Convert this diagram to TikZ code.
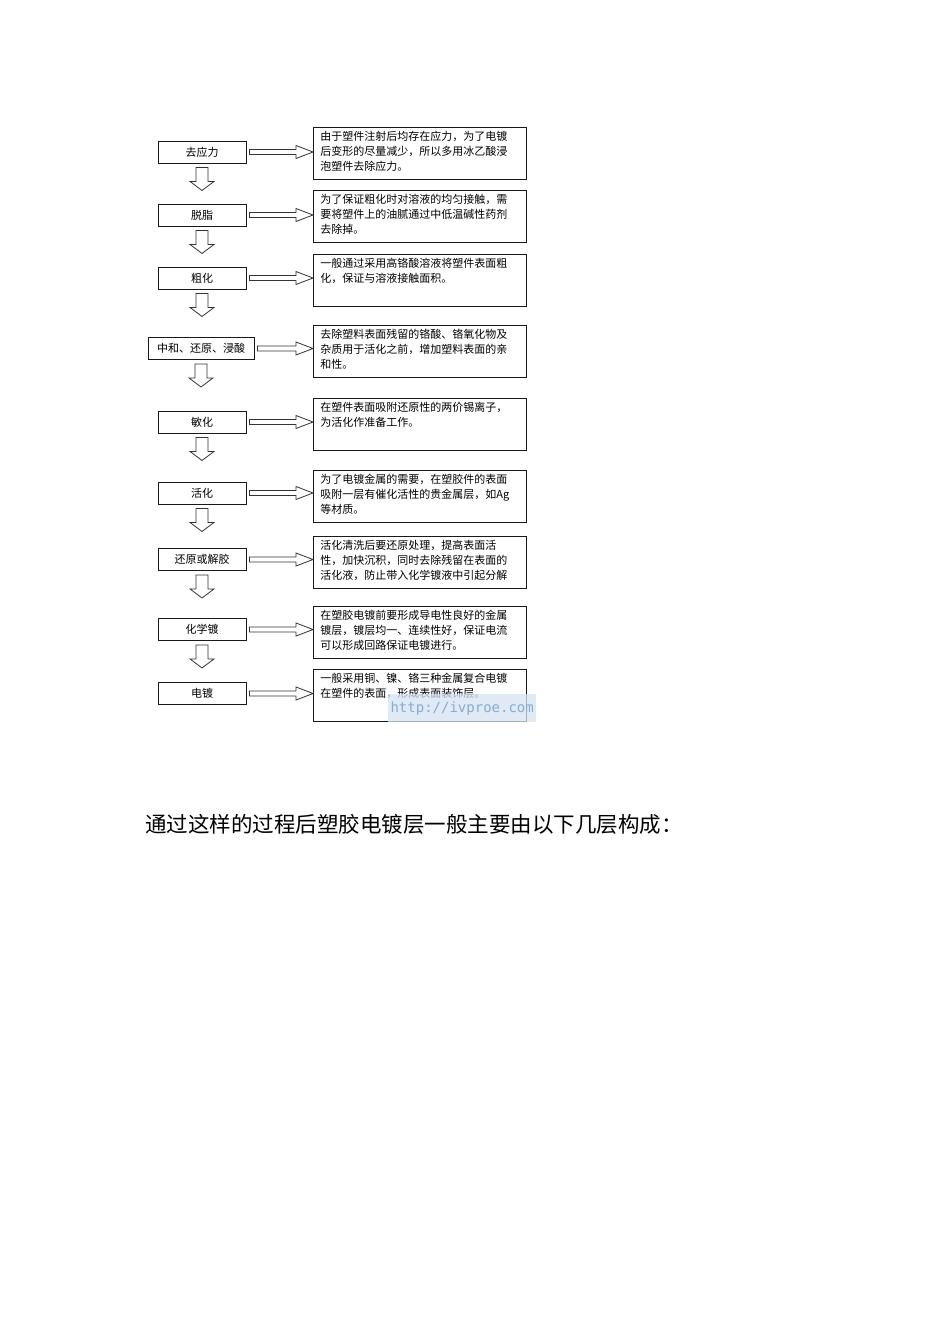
\documentclass[tikz,border=0pt]{standalone}
\usepackage{fontspec}
\setmainfont{Noto Sans CJK SC}
\newfontfamily\wmfont{DejaVu Sans Mono}
\usetikzlibrary{calc}
\definecolor{wmfill}{RGB}{214,228,244}
\definecolor{wmtext}{RGB}{140,170,205}
\newcommand\desctext[1]{\parbox[t][44pt][t]{199pt}{#1}}
\newcommand\rarr[2]{%
  \coordinate (tip) at (#2.west |- #1.east);
  \draw[blockarrow] ($(#1.east)+(3,-2.5)$) -- ($(tip)+(-17,-2.5)$) -- ++(0,-4)
    -- (tip) -- ($(tip)+(-17,6.5)$) -- ++(0,-4) -- ($(#1.east)+(3,2.5)$) -- cycle;}
\newcommand\darr[1]{%
  \draw[blockarrow] ($(#1.south)+(-6,4)$) -- ++(0,14) -- ++(-6,0) -- ++(12,9)
    -- ++(12,-9) -- ++(-6,0) -- ++(0,-14) -- cycle;}
\begin{document}
\begin{tikzpicture}[x=1pt,y=-1pt,
  stagebox/.style={draw=black!90, line width=0.9pt, minimum width=88pt, minimum height=22pt,
    inner sep=0pt, font=\fontsize{11}{13}\selectfont},
  descbox/.style={draw=black!90, line width=0.9pt, anchor=north west, inner xsep=7pt,
    inner ysep=4pt, align=left, font=\fontsize{11}{15}\selectfont},
  blockarrow/.style={draw=black!80, line width=0.8pt, fill=white, line join=miter}]
\useasboundingbox (0,0) rectangle (950,1344);
\fill[white] (0,0) rectangle (950,1344);

% stage boxes
\node[stagebox] (s1) at (202,152) {去应力};
\node[stagebox] (s2) at (202,215) {脱脂};
\node[stagebox] (s3) at (202,278) {粗化};
\node[stagebox, minimum width=106pt] (s4) at (201,348.5) {中和、还原、浸酸};
\node[stagebox] (s5) at (202,422) {敏化};
\node[stagebox] (s6) at (202,493) {活化};
\node[stagebox] (s7) at (202,559.5) {还原或解胶};
\node[stagebox] (s8) at (202,629.5) {化学镀};
\node[stagebox] (s9) at (202,693.5) {电镀};

% description boxes
\node[descbox] (d1) at (313,127) {\desctext{由于塑件注射后均存在应力，为了电镀\\后变形的尽量减少，所以多用冰乙酸浸\\泡塑件去除应力。}};
\node[descbox] (d2) at (313,190) {\desctext{为了保证粗化时对溶液的均匀接触，需\\要将塑件上的油腻通过中低温碱性药剂\\去除掉。}};
\node[descbox] (d3) at (313,254) {\desctext{一般通过采用高铬酸溶液将塑件表面粗\\化，保证与溶液接触面积。}};
\node[descbox] (d4) at (313,325) {\desctext{去除塑料表面残留的铬酸、铬氧化物及\\杂质用于活化之前，增加塑料表面的亲\\和性。}};
\node[descbox] (d5) at (313,398) {\desctext{在塑件表面吸附还原性的两价锡离子，\\为活化作准备工作。}};
\node[descbox] (d6) at (313,470) {\desctext{为了电镀金属的需要，在塑胶件的表面\\吸附一层有催化活性的贵金属层，如Ag\\等材质。}};
\node[descbox] (d7) at (313,536) {\desctext{活化清洗后要还原处理，提高表面活\\性，加快沉积，同时去除残留在表面的\\活化液，防止带入化学镀液中引起分解}};
\node[descbox] (d8) at (313,606) {\desctext{在塑胶电镀前要形成导电性良好的金属\\镀层，镀层均一、连续性好，保证电流\\可以形成回路保证电镀进行。}};
\node[descbox] (d9) at (313,669) {\desctext{一般采用铜、镍、铬三种金属复合电镀\\在塑件的表面，形成表面装饰层。}};

% right arrows
\rarr{s1}{d1}
\rarr{s2}{d2}
\rarr{s3}{d3}
\rarr{s4}{d4}
\rarr{s5}{d5}
\rarr{s6}{d6}
\rarr{s7}{d7}
\rarr{s8}{d8}
\rarr{s9}{d9}

% down arrows
\darr{s1}
\darr{s2}
\darr{s3}
\darr{s4}
\darr{s5}
\darr{s6}
\darr{s7}
\darr{s8}

% watermark
\node[fill=wmfill, fill opacity=0.75, text opacity=1, text=wmtext, anchor=north west,
  minimum width=148pt, minimum height=28pt, inner sep=0pt,
  font=\wmfont\fontsize{14}{15}\selectfont] (wm) at (388,694) {http://ivproe.com};

% caption
\node[anchor=west, inner sep=0pt, font=\fontsize{21.5}{24}\selectfont] (cap) at (145,824)
  {通过这样的过程后塑胶电镀层一般主要由以下几层构成：};
\end{tikzpicture}
\end{document}
